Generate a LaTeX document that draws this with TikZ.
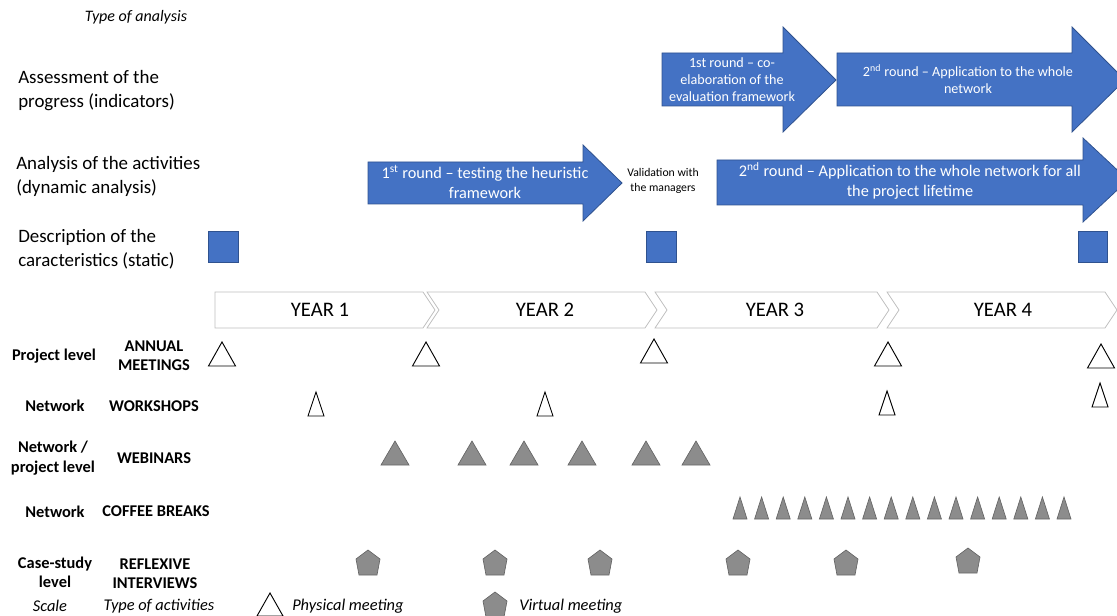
\documentclass[tikz,border=0pt]{standalone}
\usepackage{fontspec}
\setmainfont{Carlito}
\definecolor{bl}{HTML}{4472C4}
\definecolor{bld}{HTML}{2F528F}
\definecolor{gf}{HTML}{8C8C8C}
\definecolor{gd}{HTML}{666666}
\definecolor{chev}{HTML}{BFBFBF}
\newcommand{\trig}[5]{\draw[#5] (#1-#2/2,#3) -- (#1,#3-#4) -- (#1+#2/2,#3) -- cycle;}
\newcommand{\pent}[3]{\draw[#3] (#1,#2-13) -- (#1+12,#2-4) -- (#1+9,#2+12) -- (#1-9,#2+12) -- (#1-12,#2-4) -- cycle;}
\begin{document}
\begin{tikzpicture}[x=0.75pt,y=-0.75pt,
 barrow/.style={fill=bl,draw=bld,line width=0.6pt},
 sq/.style={fill=bl,draw=bld,line width=0.6pt},
 yearbox/.style={draw=chev,fill=white,line width=0.6pt},
 phys/.style={draw=black,fill=white,line width=0.7pt},
 virt/.style={draw=gd,fill=gf,line width=0.5pt},
 atext/.style={text=white,align=center,inner sep=0,font=\fontsize{10.6}{12.8}\selectfont},
 btext/.style={text=white,align=center,inner sep=0,font=\fontsize{12.2}{14.5}\selectfont},
 headlab/.style={align=left,anchor=west,inner sep=0,font=\fontsize{14.2}{18}\selectfont},
 rowlab/.style={align=center,inner sep=0,font=\bfseries\fontsize{12.3}{14.5}\selectfont},
 itlab/.style={inner sep=0,font=\itshape\fontsize{12.3}{14}\selectfont},
 yearlab/.style={inner sep=0,font=\fontsize{15.5}{18}\selectfont}
]
\useasboundingbox (0,0) rectangle (1117,616);
\clip (0,0) rectangle (1117,616);

% header labels
\node[itlab,font=\itshape\fontsize{12}{14}\selectfont] (toa) at (136,17) {Type of analysis};
\node[headlab] (assess) at (18,91) {Assessment of the\\progress (indicators)};
\node[headlab] (anal) at (16,176) {Analysis of the activities\\(dynamic analysis)};
\node[headlab] (desc) at (18,249) {Description of the\\caracteristics (static)};

% assessment arrows
\draw[barrow] (662,53) -- (783,53) -- (783,27) -- (836,80) -- (783,132) -- (783,106) -- (662,106) -- cycle;
\node[atext] (a1) at (732,80) {1st round -- co-\\elaboration of the\\evaluation framework};
\draw[barrow] (837,53) -- (1072,53) -- (1072,27) -- (1125,80) -- (1072,132) -- (1072,106) -- (837,106) -- cycle;
\node[atext] (a2) at (968,79) {2\textsuperscript{nd} round -- Application to the whole\\network};

% analysis arrows
\draw[barrow] (368,162) -- (583,162) -- (583,145) -- (622,183) -- (583,221) -- (583,204) -- (368,204) -- cycle;
\node[btext] (b1) at (485,182) {1\textsuperscript{st} round -- testing the heuristic\\framework};
\node[align=center,inner sep=0,font=\fontsize{8.8}{11}\selectfont] (val) at (663,181) {Validation with\\the managers};
\draw[barrow] (717,160) -- (1083,160) -- (1083,138) -- (1128,180) -- (1083,222) -- (1083,205) -- (717,205) -- cycle;
\node[btext] (b2) at (910,181) {2\textsuperscript{nd} round -- Application to the whole network for all\\the project lifetime};

% static squares
\draw[sq] (208,231) rectangle (238,262);
\draw[sq] (646,231) rectangle (676,262);
\draw[sq] (1078,231) rectangle (1107,262);

% year chevrons
\draw[yearbox] (215,292) -- (423,292) -- (435,310) -- (423,328) -- (215,328) -- cycle;
\draw[yearbox] (427,292) -- (645,292) -- (657,310) -- (645,328) -- (427,328) -- (439,310) -- cycle;
\draw[yearbox] (655,292) -- (877,292) -- (889,310) -- (877,328) -- (655,328) -- (667,310) -- cycle;
\draw[yearbox] (887,292) -- (1105,292) -- (1117,310) -- (1105,328) -- (887,328) -- (899,310) -- cycle;
\node[yearlab] (y1) at (320,310) {YEAR 1};
\node[yearlab] (y2) at (545,310) {YEAR 2};
\node[yearlab] (y3) at (775,310) {YEAR 3};
\node[yearlab] (y4) at (1003,310) {YEAR 4};

% row labels
\node[rowlab] (s1) at (54,356) {Project level};
\node[rowlab] (t1) at (154,356) {ANNUAL\\MEETINGS};
\node[rowlab] (s2) at (55,406) {Network};
\node[rowlab] (t2) at (154,406) {WORKSHOPS};
\node[rowlab] (s3) at (53,458) {Network /\\project level};
\node[rowlab] (t3) at (154,458) {WEBINARS};
\node[rowlab] (s4) at (55,512) {Network};
\node[rowlab] (t4) at (156,511) {COFFEE BREAKS};
\node[rowlab] (s5) at (55,572) {Case-study\\level};
\node[rowlab] (t5) at (155,574) {REFLEXIVE\\INTERVIEWS};

% annual meetings
\trig{222}{27}{366}{24}{phys}
\trig{426}{27}{366}{24}{phys}
\trig{654}{27}{363}{24}{phys}
\trig{888}{27}{366}{24}{phys}
\trig{1101}{27}{368}{24}{phys}

% workshops
\trig{316}{16}{416}{24}{phys}
\trig{545}{16}{416}{24}{phys}
\trig{887}{16}{415}{24}{phys}
\trig{1100}{16}{407}{24}{phys}

% webinars
\foreach \xx in {395,472,524,582,646,696} {\trig{\xx}{28}{465}{24}{virt}}

% coffee breaks
\foreach \i in {0,...,15} {\trig{740+21.6*\i}{14}{519}{22}{virt}}

% reflexive interviews
\foreach \xx in {368,495,600,738,846} {\pent{\xx}{563}{virt}}
\pent{968}{561}{virt}

% legend
\node[itlab] (scale) at (50,606) {Scale};
\node[itlab] (toact) at (159,606) {Type of activities};
\trig{270}{26}{616}{23}{phys}
\node[itlab,anchor=west] (pm) at (292,606) {Physical meeting};
\pent{495}{605}{virt}
\node[itlab,anchor=west] (vm) at (519,606) {Virtual meeting};
\end{tikzpicture}
\end{document}
